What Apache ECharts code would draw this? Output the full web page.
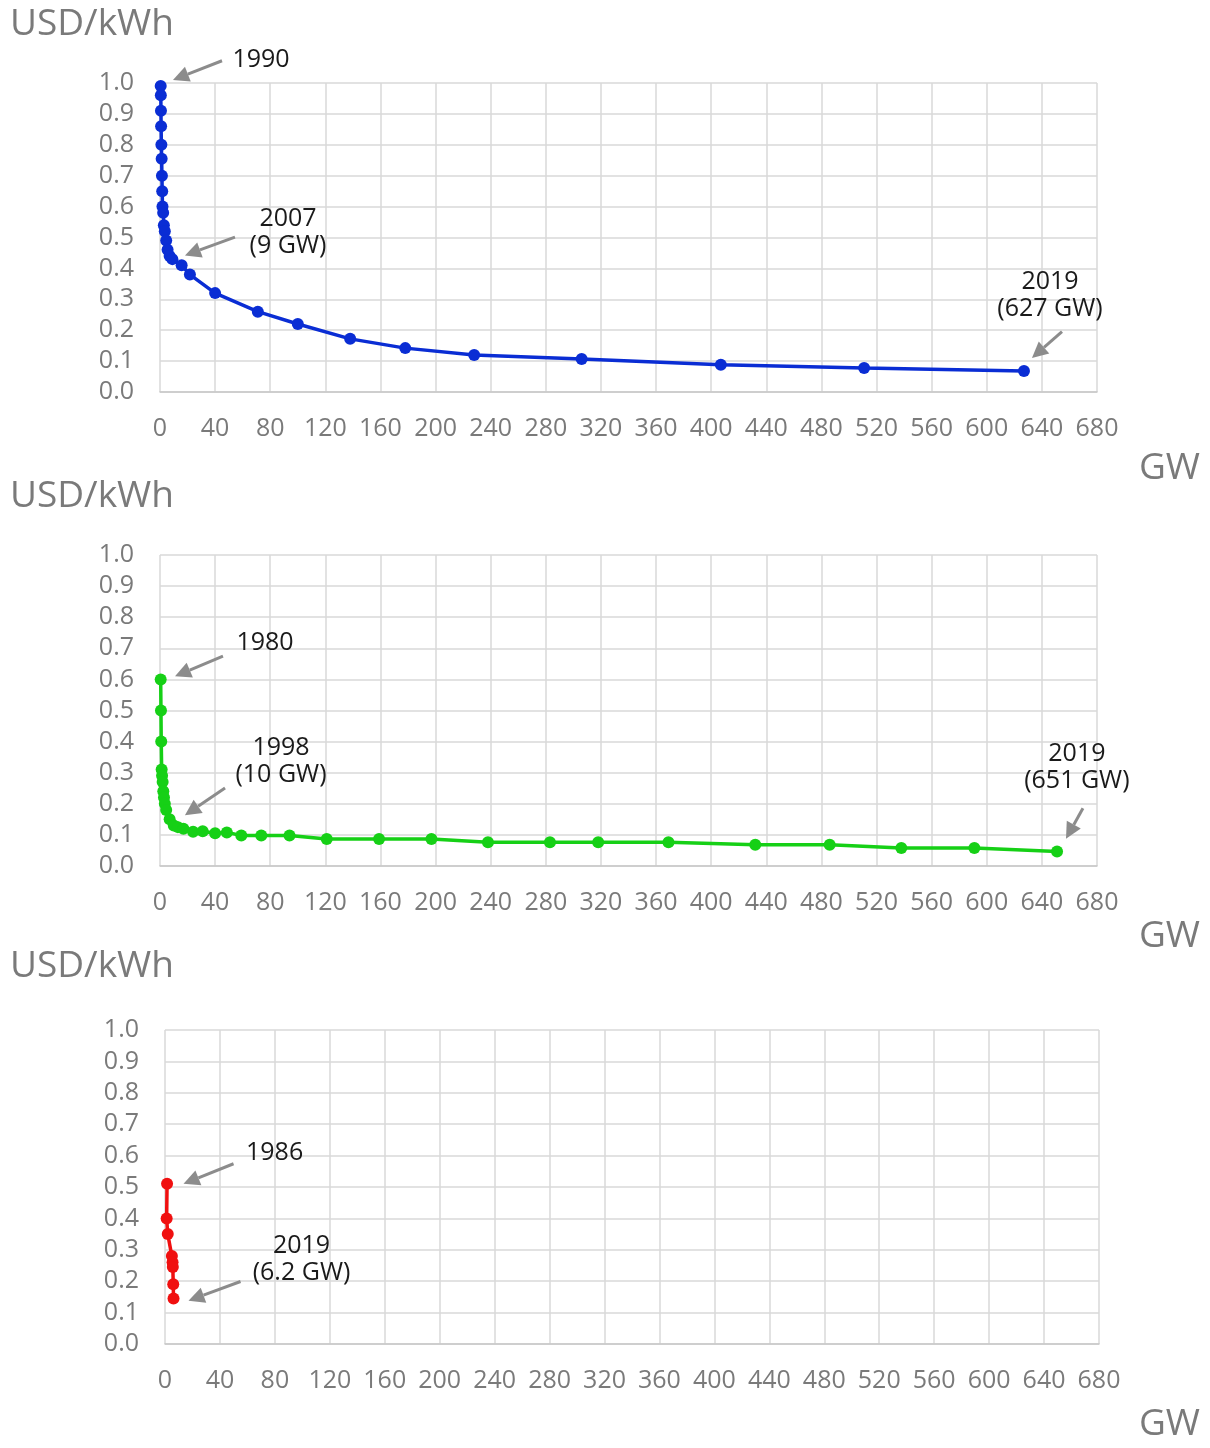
<!DOCTYPE html>
<html>
<head>
<meta charset="utf-8">
<script src="https://cdn.jsdelivr.net/npm/echarts@6/dist/echarts.min.js"></script>
<style>
html, body { margin: 0; padding: 0; background: #fff; }
#chart { width: 1210px; height: 1448px; }
</style>
</head>
<body>
<div id="chart"></div>
<script>
// [GW, USD/kWh]
var curve1 = [
  [0.5, 0.99], [0.6, 0.96], [0.7, 0.91], [0.8, 0.86], [1.0, 0.80], [1.2, 0.755],
  [1.4, 0.70], [1.6, 0.65], [1.8, 0.60], [2.3, 0.58], [2.8, 0.54], [3.5, 0.52],
  [4.5, 0.49], [5.5, 0.46], [7, 0.44], [9, 0.43], [15.7, 0.41], [21.7, 0.38],
  [40, 0.32], [71, 0.26], [100, 0.22], [138, 0.172], [178, 0.142], [228, 0.12],
  [306, 0.107], [407, 0.088], [511, 0.078], [627, 0.068]
];
var curve2 = [
  [0.5, 0.60], [0.7, 0.50], [0.9, 0.40], [1.2, 0.31], [1.5, 0.29], [1.9, 0.27],
  [2.4, 0.24], [2.9, 0.22], [3.5, 0.20], [4.5, 0.18], [7, 0.15], [10, 0.13],
  [13, 0.125], [17, 0.12], [24, 0.11], [31, 0.112], [40, 0.105], [48.5, 0.108],
  [59, 0.098], [73.5, 0.098], [94, 0.098], [121, 0.087], [159, 0.087], [197, 0.087],
  [238, 0.076], [283, 0.076], [318, 0.076], [369, 0.076], [432, 0.068], [486, 0.068],
  [538, 0.058], [591, 0.058], [651, 0.047]
];
var curve3 = [
  [1.5, 0.51], [1.2, 0.40], [2.0, 0.35], [5.0, 0.28], [5.5, 0.26], [5.7, 0.245],
  [6.0, 0.19], [6.2, 0.145]
];

var xTickLabels = [0, 40, 80, 120, 160, 200, 240, 280, 320, 360, 400, 440, 480, 520, 560, 600, 640, 680];
var yTickLabels = ['0.0', '0.1', '0.2', '0.3', '0.4', '0.5', '0.6', '0.7', '0.8', '0.9', '1.0'];

// annotations: text anchor and arrow, in data units of each panel
var notes1 = [
  { text: '1990', at: [73.3, 1.075], from: [45, 1.072], to: [9.4, 1.01] },
  { text: '2007\n(9 GW)', at: [92.9, 0.517], from: [54.4, 0.501], to: [18.1, 0.442] },
  { text: '2019\n(627 GW)', at: [645.9, 0.312], from: [654.6, 0.195], to: [632.8, 0.110] }
];
var notes2 = [
  { text: '1980', at: [76.2, 0.717], from: [45.7, 0.675], to: [10.9, 0.610] },
  { text: '1998\n(10 GW)', at: [87.8, 0.336], from: [47.2, 0.251], to: [18.1, 0.163] },
  { text: '2019\n(651 GW)', at: [665.4, 0.316], from: [669.8, 0.186], to: [657.5, 0.088] }
];
var notes3 = [
  { text: '1986', at: [79.8, 0.609], from: [49.9, 0.574], to: [13.5, 0.510] },
  { text: '2019\n(6.2 GW)', at: [99.4, 0.269], from: [55.0, 0.199], to: [17.1, 0.138] }
];

var FONT = '"Open Sans", "Noto Sans", sans-serif';
var labelGray = '#7a7a7a';
var gridGray = '#d9d9d9';

var panels = [
  { grid: { left: 160, top: 83, width: 937, height: 309 }, data: curve1, color: '#0a2dd4', notes: notes1, yTitle: 28, xTitle: 472 },
  { grid: { left: 160, top: 555, width: 937, height: 311 }, data: curve2, color: '#16d016', notes: notes2, yTitle: 500, xTitle: 940 },
  { grid: { left: 165, top: 1030, width: 934, height: 314 }, data: curve3, color: '#f01010', notes: notes3, yTitle: 970, xTitle: 1428 }
];

var myChart = echarts.init(document.getElementById('chart'), null, { renderer: 'canvas' });

var option = {
  animation: false,
  backgroundColor: '#fff',
  grid: [],
  xAxis: [],
  yAxis: [],
  series: []
};

panels.forEach(function (p, i) {
  option.grid.push(Object.assign({ containLabel: false }, p.grid));
  option.xAxis.push({
    type: 'value',
    gridIndex: i,
    min: xTickLabels[0],
    max: xTickLabels[xTickLabels.length - 1],
    interval: xTickLabels[1] - xTickLabels[0],
    axisLine: { show: true, lineStyle: { color: '#c8c8c8', width: 1.5 } },
    axisTick: { show: false },
    splitLine: { show: true, lineStyle: { color: gridGray, width: 1.5 } },
    axisLabel: { color: labelGray, fontSize: 25, fontFamily: FONT, margin: 24 }
  });
  option.yAxis.push({
    type: 'value',
    gridIndex: i,
    min: 0,
    max: 1,
    interval: 0.1,
    axisLine: { show: false },
    axisTick: { show: false },
    splitLine: { show: true, lineStyle: { color: gridGray, width: 1.5 } },
    axisLabel: {
      color: labelGray, fontSize: 25, fontFamily: FONT, margin: 26,
      formatter: function (v) { return yTickLabels[Math.round(v * 10)]; }
    }
  });
  option.series.push({
    type: 'line',
    xAxisIndex: i,
    yAxisIndex: i,
    data: p.data,
    smooth: false,
    clip: false,
    symbol: 'circle',
    symbolSize: 12,
    itemStyle: { color: p.color },
    lineStyle: { color: p.color, width: 3.5 }
  });
});

myChart.setOption(option);

// titles and annotations
var graphics = [];
panels.forEach(function (p, i) {
  graphics.push({
    type: 'text', left: 10, top: p.yTitle - 22,
    style: { text: 'USD/kWh', fill: labelGray, font: '37px ' + FONT }
  });
  graphics.push({
    type: 'text', right: 10, top: p.xTitle - 22,
    style: { text: 'GW', fill: labelGray, font: '37px ' + FONT }
  });
  p.notes.forEach(function (n) {
    var t = myChart.convertToPixel({ seriesIndex: i }, n.at);
    var a = myChart.convertToPixel({ seriesIndex: i }, n.from);
    var b = myChart.convertToPixel({ seriesIndex: i }, n.to);
    graphics.push({
      type: 'text', x: t[0], y: t[1],
      style: {
        text: n.text, fill: '#1a1a1a', font: '25px ' + FONT,
        align: 'center', verticalAlign: 'middle', lineHeight: 27
      }
    });
    var dx = b[0] - a[0], dy = b[1] - a[1];
    var len = Math.sqrt(dx * dx + dy * dy);
    var ux = dx / len, uy = dy / len;
    var head = 16, half = 8;
    var bx = b[0] - ux * head, by = b[1] - uy * head;
    graphics.push({
      type: 'line',
      shape: { x1: a[0], y1: a[1], x2: bx, y2: by },
      style: { stroke: '#8c8c8c', lineWidth: 3 }
    });
    graphics.push({
      type: 'polygon',
      shape: { points: [[b[0], b[1]], [bx - uy * half, by + ux * half], [bx + uy * half, by - ux * half]] },
      style: { fill: '#8c8c8c' }
    });
  });
});

myChart.setOption({ graphic: graphics });
</script>
</body>
</html>
